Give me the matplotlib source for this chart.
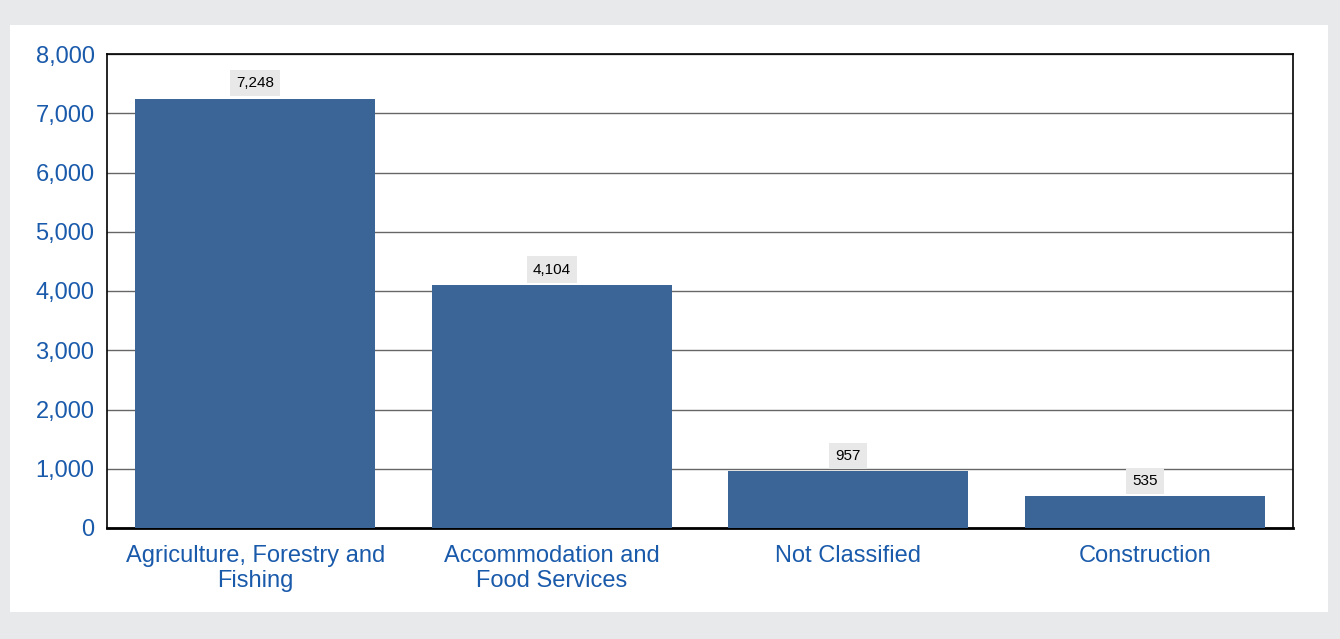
import numpy as np
import matplotlib
matplotlib.use('Agg')
from matplotlib import pyplot as plt
from matplotlib.patches import Rectangle
from matplotlib.ticker import FuncFormatter

plt.rcParams['font.family'] = ['Liberation Sans', 'DejaVu Sans']

#data
categories = ['Agriculture, Forestry and\nFishing', 'Accommodation and\nFood Services', 'Not Classified', 'Construction']
values = [7248, 4104, 957, 535]
yticks = [0, 1000, 2000, 3000, 4000, 5000, 6000, 7000, 8000]

bar_color = '#3a6596'
text_blue = '#1a5aab'

fig = plt.figure(figsize=(13.4, 6.39), dpi=100, facecolor='#e8e9eb')
#white panel
fig.patches.append(Rectangle((10/1340, 1 - 612/639), 1318/1340, 587/639,
                             transform=fig.transFigure, facecolor='white', edgecolor='none', zorder=-1))

ax = fig.add_axes([107/1340, 1 - 528/639, 1186/1340, 474/639])
ax.set_zorder(2)
x = np.arange(len(categories))
ax.bar(x, values, width=0.81, color=bar_color, zorder=3)
ax.set_xlim(-0.5, 3.5)
ax.set_ylim(0, 8000)
ax.set_yticks(yticks)
ax.yaxis.set_major_formatter(FuncFormatter(lambda v, p: f'{int(v):,}'))
ax.grid(axis='y', color='#666666', linewidth=1.0, zorder=1)
ax.set_xticks(x)
ax.set_xticklabels(categories, linespacing=1.2)
ax.tick_params(axis='both', length=0, labelsize=17, labelcolor=text_blue)
ax.tick_params(axis='y', pad=9)
ax.tick_params(axis='x', pad=12)
for s in ax.spines.values():
    s.set_color('black')
    s.set_linewidth(1.2)
ax.spines['bottom'].set_linewidth(2)

for xi, v in zip(x, values):
    ax.annotate(f'{v:,}', (xi, v), xytext=(0, 6), textcoords='offset points',
                ha='center', va='bottom', fontsize=11, color='black',
                bbox=dict(boxstyle='square,pad=0.4', facecolor='#e8e8e8', edgecolor='none'))

fig.savefig('out.png', dpi=100, facecolor=fig.get_facecolor())
